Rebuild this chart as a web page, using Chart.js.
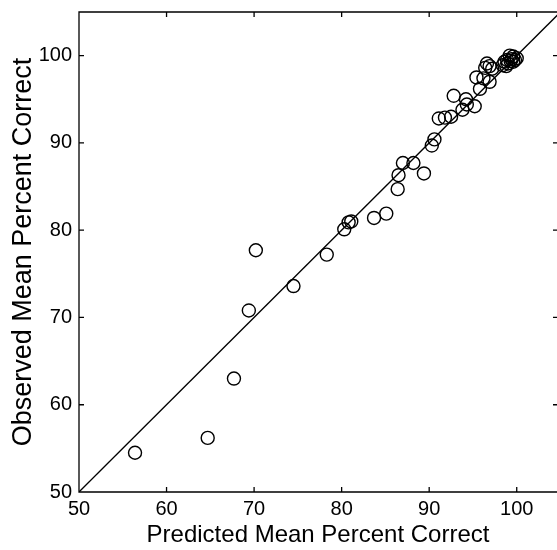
<!DOCTYPE html>
<html lang="en">
<head>
    <meta charset="UTF-8">
    <title>Observed vs Predicted</title>
    <script src="https://cdn.jsdelivr.net/npm/chart.js"></script>
    <style>
        html, body { margin: 0; padding: 0; background: #fff; }
        #wrap { width: 557px; height: 550px; }
    </style>
</head>
<body>
    <div id="wrap"><canvas id="scatter"></canvas></div>

    <script>
        // predicted (x) and observed (y) mean percent correct
        const predicted = [
            56.4, 64.7, 67.7, 69.4, 70.2, 74.5, 78.3, 80.3, 80.8, 81.1,
            83.7, 85.1, 86.4, 86.5, 87.0, 88.2, 89.4, 90.3, 90.6, 91.1,
            91.8, 92.5, 92.8, 93.8, 94.3, 94.2, 95.2, 95.4, 95.8, 96.2,
            96.9, 96.4, 96.6, 96.9, 97.2, 98.4, 98.6, 98.9, 99.2, 99.4,
            99.6, 99.8, 100.0, 99.0, 99.3, 99.6, 98.8
        ];
        const observed = [
            54.5, 56.2, 63.0, 70.8, 77.7, 73.6, 77.2, 80.1, 80.9, 81.0,
            81.4, 81.9, 84.7, 86.3, 87.7, 87.7, 86.5, 89.7, 90.4, 92.8,
            92.9, 93.0, 95.4, 93.8, 94.4, 95.0, 94.2, 97.5, 96.2, 97.4,
            97.0, 98.6, 99.1, 98.8, 98.5, 98.9, 99.3, 99.5, 100.0, 99.6,
            99.9, 99.5, 99.7, 99.1, 99.4, 99.3, 98.8
        ];
        const identityLine = [50, 105];
        const xTicks = [50, 60, 70, 80, 90, 100];
        const yTicks = [50, 60, 70, 80, 90, 100];

        const points = predicted.map((p, i) => ({ x: p, y: observed[i] }));
        const diag = identityLine.map(v => ({ x: v, y: v }));

        // frame (right edge is cut off in the original) plus inward ticks on all four sides
        const boxTicks = {
            id: 'boxTicks',
            afterDraw(chart) {
                const { ctx, chartArea: a, scales } = chart;
                const len = 5;
                ctx.save();
                ctx.strokeStyle = '#000';
                ctx.lineWidth = 1.3;
                ctx.beginPath();
                ctx.moveTo(a.right + 2, a.top);
                ctx.lineTo(a.left, a.top);
                ctx.lineTo(a.left, a.bottom);
                ctx.lineTo(a.right + 2, a.bottom);
                xTicks.forEach(v => {
                    const px = scales.x.getPixelForValue(v);
                    ctx.moveTo(px, a.bottom); ctx.lineTo(px, a.bottom - len);
                    ctx.moveTo(px, a.top); ctx.lineTo(px, a.top + len);
                });
                yTicks.forEach(v => {
                    const py = scales.y.getPixelForValue(v);
                    ctx.moveTo(a.left, py); ctx.lineTo(a.left + len, py);
                    ctx.moveTo(a.right + 1, py); ctx.lineTo(a.right - len + 1, py);
                });
                ctx.stroke();
                ctx.restore();
            }
        };

        const font = "'Liberation Sans', Arial, Helvetica, sans-serif";

        new Chart(document.getElementById('scatter'), {
            type: 'scatter',
            data: {
                datasets: [
                    {
                        data: points,
                        pointStyle: 'circle',
                        pointRadius: 6.5,
                        pointBorderWidth: 1.4,
                        pointBorderColor: '#000',
                        pointBackgroundColor: 'rgba(0,0,0,0)',
                    },
                    {
                        type: 'line',
                        data: diag,
                        borderColor: '#000',
                        borderWidth: 1.3,
                        pointRadius: 0,
                        fill: false,
                    },
                ],
            },
            options: {
                responsive: true,
                maintainAspectRatio: false,
                animation: false,
                layout: { autoPadding: false, padding: { top: 12, right: 0, left: 0, bottom: 0 } },
                plugins: {
                    legend: { display: false },
                    tooltip: { enabled: false },
                },
                scales: {
                    x: {
                        type: 'linear',
                        min: 50,
                        max: 104.6,
                        afterBuildTicks: s => { s.ticks = xTicks.map(v => ({ value: v })); },
                        afterFit: s => { s.height = 58; s.paddingLeft = 0; s.paddingRight = 0; },
                        grid: { display: false, drawTicks: false },
                        border: { display: false },
                        ticks: { color: '#000', padding: 5, font: { family: font, size: 20 }, maxRotation: 0 },
                        title: {
                            display: true,
                            text: 'Predicted Mean Percent Correct',
                            color: '#000',
                            font: { family: font, size: 24 },
                            padding: { top: 0, bottom: 0 },
                        },
                    },
                    y: {
                        type: 'linear',
                        min: 50,
                        max: 105,
                        afterBuildTicks: s => { s.ticks = yTicks.map(v => ({ value: v })); },
                        afterFit: s => { s.width = 79; s.paddingTop = 0; s.paddingBottom = 0; },
                        grid: { display: false, drawTicks: false },
                        border: { display: false },
                        ticks: { color: '#000', padding: 7, font: { family: font, size: 20 } },
                        title: {
                            display: true,
                            text: 'Observed Mean Percent Correct',
                            color: '#000',
                            font: { family: font, size: 27 },
                            padding: { top: 7, bottom: 0 },
                        },
                    },
                },
            },
            plugins: [boxTicks],
        });
    </script>
</body>
</html>
